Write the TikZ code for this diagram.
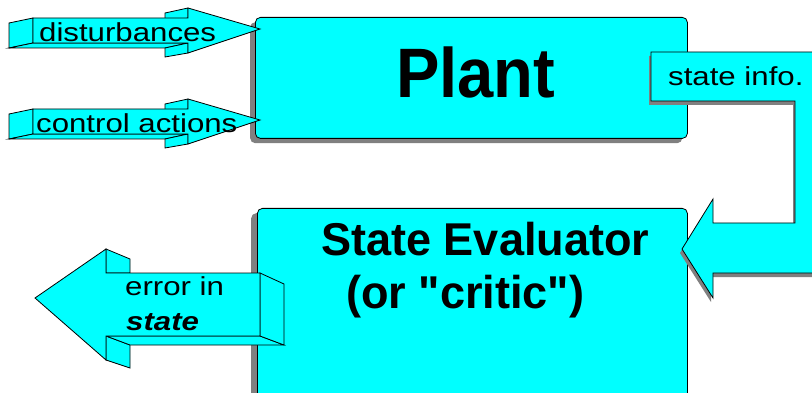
\documentclass[tikz,border=0pt]{standalone}
\usepackage{fontspec}
\setmainfont{Liberation Sans}
\newfontfamily\lblfont[FakeStretch=1.2]{Liberation Sans}
\newfontfamily\plantfont[FakeStretch=0.93]{Liberation Sans}
\newfontfamily\evalfont[FakeStretch=0.98]{Liberation Sans}
\definecolor{aqua}{HTML}{00FFFF}
\definecolor{shade}{HTML}{808080}
\tikzset{
  face/.style={fill=aqua,draw=black,line width=0.8pt,line join=miter},
  shadowfill/.style={fill=shade,draw=none},
  boxnode/.style={rectangle,rounded corners=5pt,anchor=north west,inner sep=0pt,
    fill=aqua,draw=black,line width=0.8pt},
  shadownode/.style={rectangle,rounded corners=5pt,anchor=north west,inner sep=0pt,
    fill=shade,draw=none},
  lbl/.style={anchor=base west,inner sep=0pt,font=\lblfont\fontsize{26}{30}\selectfont},
  bigtitle/.style={anchor=base west,inner sep=0pt,font=\plantfont\bfseries\fontsize{70}{80}\selectfont},
  evtitle/.style={anchor=base west,inner sep=0pt,font=\evalfont\bfseries\fontsize{46}{52}\selectfont},
  inarrow/.pic={
    \path[face] (9,23) -- (33,18) -- (33,43) -- (9,48) -- cycle;
    \path[face] (9,48) -- (33,43) -- (188,43) -- (165,48) -- cycle;
    \path[face] (165,13) -- (188,8) -- (188,18) -- (165,23) -- cycle;
    \path[face] (165,48) -- (188,43) -- (188,53) -- (165,57) -- cycle;
    \path[face] (33,18) -- (188,18) -- (188,8) -- (260,29) -- (188,53) -- (188,43) -- (33,43) -- cycle;
  }
}
\begin{document}
\begin{tikzpicture}[x=1pt,y=-1pt]
\useasboundingbox (0,0) rectangle (812,393);
\clip (0,0) rectangle (812,393);
% Plant box
\node[shadownode,minimum width=432pt,minimum height=121pt] (plantshadow) at (250,22) {};
\node[boxnode,minimum width=432pt,minimum height=121pt] (plant) at (255,17) {};
% State evaluator box
\node[shadownode,minimum width=430pt,minimum height=220pt] (evalshadow) at (251,213) {};
\node[boxnode,minimum width=430pt,minimum height=220pt] (eval) at (257,208) {};
% state info arrow
\path[shadowfill,shift={(-2,4)}] (651,52) -- (844,52) -- (844,273) -- (713,273) -- (713,298) -- (682,249) -- (713,199) -- (713,223) -- (795,223) -- (795,101) -- (651,101) -- cycle;
\path[face] (651,52) -- (844,52) -- (844,273) -- (713,273) -- (713,298) -- (682,249) -- (713,199) -- (713,223) -- (795,223) -- (795,101) -- (651,101) -- cycle;
% error arrow
\path[face] (106,249) -- (130,259) -- (130,273) -- (106,273) -- cycle;
\path[face] (106,336) -- (130,345) -- (130,368) -- (106,360) -- cycle;
\path[face] (106,336) -- (260,336) -- (284,345) -- (130,345) -- cycle;
\path[face] (260,273) -- (284,284) -- (284,345) -- (260,336) -- cycle;
\path[face] (35,298) -- (106,249) -- (106,273) -- (260,273) -- (260,336) -- (106,336) -- (106,360) -- cycle;
% input arrows
\pic (distarrow) at (0,0) {inarrow};
\pic (ctrlarrow) at (0,91) {inarrow};
% texts
\node[lbl] (tdist) at (39,42) {disturbances};
\node[lbl] (tctrl) at (36,133) {control actions};
\node[lbl] (tsi) at (668,86) {state info.};
\node[lbl] (terr) at (125,295) {error in};
\node[lbl] (tstate) at (126,330) {\bfseries\itshape state};
\node[bigtitle] (tplant) at (396,98) {Plant};
\node[evtitle] (teval1) at (321,255) {State Evaluator};
\node[evtitle] (teval2) at (346,308) {(or "critic")};
\end{tikzpicture}
\end{document}
